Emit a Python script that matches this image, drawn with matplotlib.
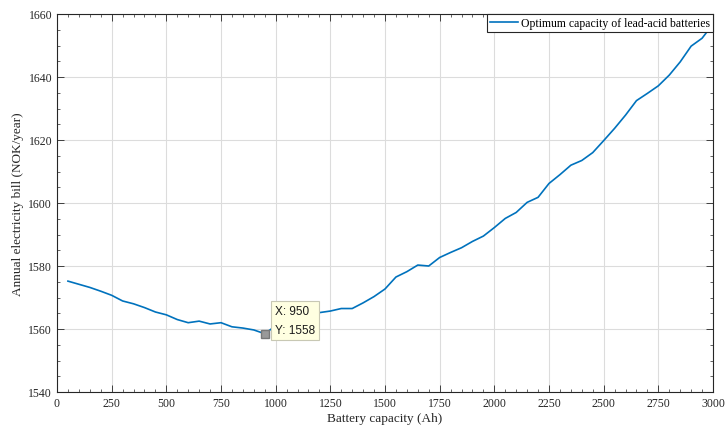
import matplotlib
matplotlib.use("Agg")
import matplotlib.pyplot as plt
from matplotlib.ticker import MultipleLocator

capacity = list(range(50, 3001, 50))
bill = [1575.2, 1574.2, 1573.2, 1572.0, 1570.7, 1568.9, 1568.0, 1566.8, 1565.4, 1564.5,
        1563.0, 1562.0, 1562.5, 1561.6, 1562.0, 1560.7, 1560.3, 1559.7, 1558.5, 1561.0,
        1562.5, 1564.0, 1564.8, 1565.2, 1565.7, 1566.5, 1566.5, 1568.3, 1570.3, 1572.7,
        1576.5, 1578.2, 1580.3, 1580.0, 1582.7, 1584.3, 1585.8, 1587.8, 1589.5, 1592.2,
        1595.1, 1597.0, 1600.2, 1601.8, 1606.2, 1609.0, 1612.0, 1613.5, 1616.0, 1619.8,
        1623.7, 1627.9, 1632.5, 1634.8, 1637.2, 1640.6, 1644.8, 1649.8, 1652.3, 1656.8]
tip_x, tip_y = 950, 1558.5
xticks = list(range(0, 3001, 250))
yticks = list(range(1540, 1661, 20))

plt.rcParams['font.family'] = ['Liberation Serif', 'DejaVu Serif']

fig = plt.figure(figsize=(7.26, 4.27), dpi=100)
ax = fig.add_axes([57/726, 34/427, 656/726, 378/427])

ax.plot(capacity, bill, color='#0072BD', lw=1.2, label='Optimum capacity of lead-acid batteries', zorder=3)

ax.set_xlim(0, 3000)
ax.set_ylim(1540, 1660)
ax.set_xticks(xticks)
ax.set_yticks(yticks)
ax.xaxis.set_minor_locator(MultipleLocator(50))
ax.yaxis.set_minor_locator(MultipleLocator(5))
ax.grid(True, which='major', color='#dcdcdc', lw=0.8)
ax.set_axisbelow(True)
ax.tick_params(which='both', direction='in', top=True, right=True, colors='#262626', labelsize=8.5)
ax.tick_params(which='major', length=5, width=0.6)
ax.tick_params(which='minor', length=2.5, width=0.5)
for s in ax.spines.values():
    s.set_color('#262626')
    s.set_linewidth(0.8)

ax.set_xlabel('Battery capacity (Ah)', fontsize=9.5, color='#262626', labelpad=2)
ax.set_ylabel('Annual electricity bill (NOK/year)', fontsize=9.5, color='#262626', labelpad=3)

leg = ax.legend(loc='upper right', borderaxespad=0, fancybox=False, framealpha=1,
                edgecolor='#262626', fontsize=8.5, handlelength=2.3, borderpad=0.25,
                handletextpad=0.3)
leg.get_frame().set_linewidth(0.8)

ax.plot([tip_x], [tip_y], marker='s', ms=5.5, color='#999999', mec='#777777', zorder=5)
ax.annotate('X: 950\nY: 1558', xy=(tip_x, tip_y), xytext=(10, -2), textcoords='offset pixels',
            ha='left', va='bottom', fontsize=8.5, family=['Liberation Sans', 'DejaVu Sans'],
            linespacing=1.7, color='#1a1a1a',
            bbox=dict(boxstyle='square,pad=0.35', fc='#ffffe1', ec='#c8c8b4', lw=0.8), zorder=6)

fig.savefig('out.png', dpi=100)
